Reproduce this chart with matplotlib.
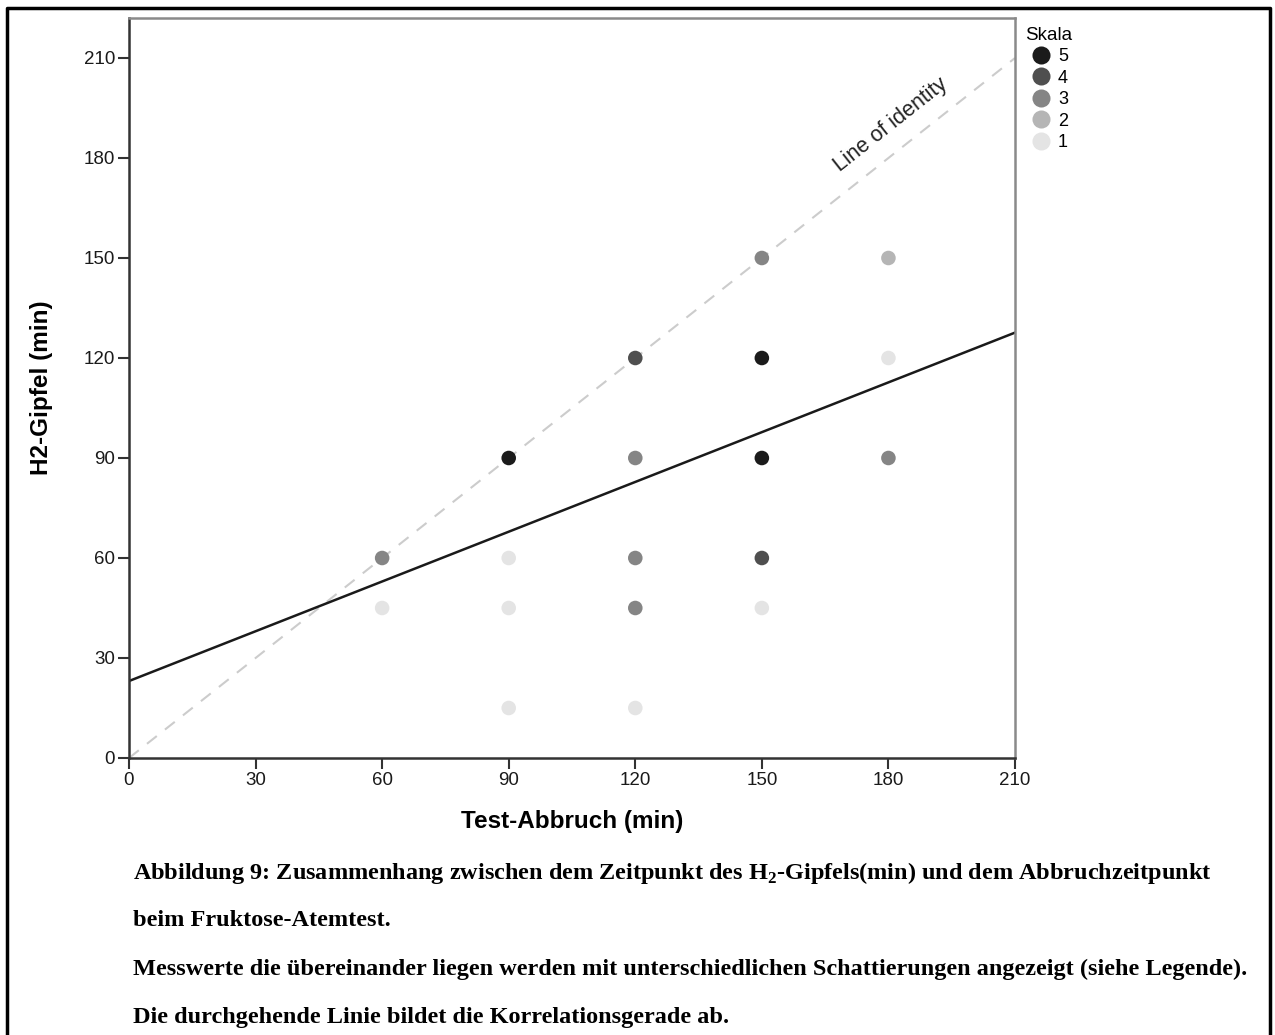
import numpy as np
import matplotlib.pyplot as plt
from matplotlib.lines import Line2D

# test stop vs. H2 peak, with the number of overlapping measurements per point
abbruch = [60, 60, 90, 90, 90, 90, 120, 120, 120, 120, 120, 150, 150, 150, 150, 150, 180, 180, 180]
gipfel = [60, 45, 90, 60, 45, 15, 120, 90, 60, 45, 15, 150, 120, 90, 60, 45, 150, 120, 90]
anzahl = [3, 1, 5, 1, 1, 1, 4, 3, 3, 3, 1, 3, 5, 5, 4, 1, 2, 1, 3]

skala = [5, 4, 3, 2, 1]
grau = {5: '#1b1b1b', 4: '#4f4f4f', 3: '#858585', 2: '#b5b5b5', 1: '#e4e4e4'}
ticks = [0, 30, 60, 90, 120, 150, 180, 210]

# regression line on all single measurements
x_all = np.repeat(abbruch, anzahl)
y_all = np.repeat(gipfel, anzahl)
slope, intercept = np.polyfit(x_all, y_all, 1)

plt.rcParams['font.family'] = ['Liberation Sans', 'DejaVu Sans']
plt.rcParams['mathtext.fontset'] = 'custom'
plt.rcParams['mathtext.rm'] = 'Liberation Serif'
plt.rcParams['mathtext.bf'] = 'Liberation Serif:bold'

fig = plt.figure(figsize=(12.75, 10.35), dpi=100)

# outer frame
fig.add_artist(Line2D([7/1275, 7/1275, 1270/1275, 1270/1275], [0, 1 - 8/1035, 1 - 8/1035, 0],
                      transform=fig.transFigure, color='black', lw=2.5))

ax = fig.add_axes([129/1275, 1 - 758/1035, (1015 - 129)/1275, (758 - 18)/1035])
ax.set_xlim(0, 210)
ax.set_ylim(0, 222)

# line of identity
ax.plot([0, 210], [0, 210], ls=(0, (6, 5)), color='#cccccc', lw=1.5, zorder=1)
ax.text(180.5, 190, 'Line of identity', rotation=38.3, rotation_mode='anchor',
        ha='center', va='center', fontsize=15.5, color='#222222')

xs = np.linspace(0, 210, 2)
ax.plot(xs, intercept + slope * xs, color='#1a1a1a', lw=1.8, zorder=2)

ax.scatter(abbruch, gipfel, s=110, c=[grau[n] for n in anzahl], edgecolors='none', zorder=3)

ax.set_xticks(ticks)
ax.set_yticks(ticks)
ax.tick_params(direction='out', length=8, width=1.5, color='#333333', labelsize=13.5, pad=2,
               labelcolor='#1a1a1a')
for side in ['left', 'bottom']:
    ax.spines[side].set_color('#333333')
    ax.spines[side].set_linewidth(1.8)
for side in ['top', 'right']:
    ax.spines[side].set_color('#8a8a8a')
    ax.spines[side].set_linewidth(1.8)

ax.set_xlabel('Test-Abbruch (min)', fontsize=17.5, fontweight='bold', labelpad=15)
ax.set_ylabel('H2-Gipfel (min)', fontsize=17.5, fontweight='bold', labelpad=22)

# legend for the shading scale
handles = [Line2D([], [], marker='o', ls='none', markersize=13, markerfacecolor=grau[k],
                  markeredgecolor='none', label=str(k)) for k in skala]
leg = fig.legend(handles=handles, title='Skala', loc='upper left',
                 bbox_to_anchor=(1012/1275, 1 - 14/1035), frameon=False, fontsize=13,
                 title_fontsize=13.5, handletextpad=0.05, labelspacing=0.25,
                 borderpad=0.2, handlelength=1.8)
leg._legend_box.align = 'left'

cap = dict(family=['Liberation Serif', 'DejaVu Serif'], fontweight='bold', fontsize=17.5,
           va='center', ha='left', transform=fig.transFigure)
fig.text(133/1275, 1 - 873/1035,
         r'Abbildung 9: Zusammenhang zwischen dem Zeitpunkt des H$_\mathbf{2}$-Gipfels(min) und dem Abbruchzeitpunkt',
         **cap)
fig.text(133/1275, 1 - 921/1035, 'beim Fruktose-Atemtest.', **cap)
fig.text(133/1275, 1 - 969/1035,
         'Messwerte die übereinander liegen werden mit unterschiedlichen Schattierungen angezeigt (siehe Legende).',
         **cap)
fig.text(133/1275, 1 - 1017/1035, 'Die durchgehende Linie bildet die Korrelationsgerade ab.', **cap)

fig.savefig('out.png', dpi=100)
